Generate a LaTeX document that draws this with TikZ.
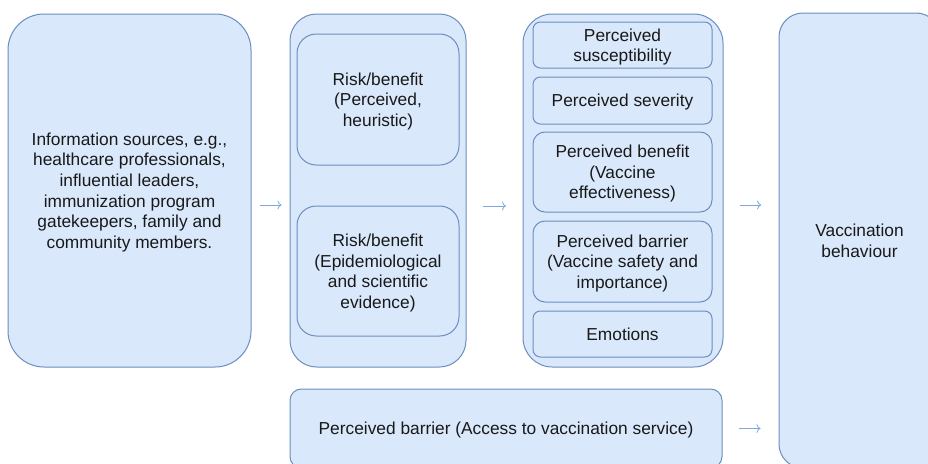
\documentclass[tikz,border=0pt]{standalone}
\usepackage{fontspec}
\setmainfont{Liberation Sans}
\usetikzlibrary{arrows.meta}
\definecolor{boxfill}{HTML}{DAE8FC}
\definecolor{boxline}{HTML}{6C8EBF}
\definecolor{arrowcol}{HTML}{7EA6E0}
\begin{document}
\begin{tikzpicture}[x=0.75pt,y=-0.75pt,
  box/.style={draw=boxline, fill=boxfill, line width=0.75pt, inner sep=0pt,
    text depth=0pt, align=center, text=black!90,
    font=\fontsize{13}{15.4}\selectfont},
  % a box given by its left, top, right and bottom edges (in pixels)
  area/.style args={#1/#2/#3/#4}{anchor=center,
    minimum width={0.75pt*(#3-#1)}, minimum height={0.75pt*(#4-#2)},
    at={({(#1+#3)/2},{(#2+#4)/2})}},
  flow/.style={draw=arrowcol, line width=0.6pt, -{To[length=3pt,width=6.5pt]}},
]
\clip (0,0) rectangle (928,464);
\fill[white] (0,0) rectangle (928,464);

% information sources
\node[box, rounded corners=27pt, area=8/14/251/367] (info)
  {Information sources, e.g.,\\healthcare professionals,\\influential leaders,\\immunization program\\gatekeepers, family and\\community members.};

% risk/benefit group
\node[box, rounded corners=20pt, area=290/14/466/367] (risk) {};
\node[box, rounded corners=14.5pt, area=297/34/459/165] (riskp)
  {Risk/benefit\\(Perceived,\\heuristic)};
\node[box, rounded corners=14.5pt, area=297/206/459/336] (riske)
  {Risk/benefit\\(Epidemiological\\and scientific\\evidence)};

% health belief group
\node[box, rounded corners=22pt, area=523/14/723/367] (belief) {};
\node[box, rounded corners=5.5pt, area=533/22/712/68] (susc)
  {Perceived\\susceptibility};
\node[box, rounded corners=5.5pt, area=533/77/712/124] (sev)
  {Perceived severity};
\node[box, rounded corners=9pt, area=533/132/712/212] (ben)
  {Perceived benefit\\(Vaccine\\effectiveness)};
\node[box, rounded corners=9pt, area=533/221/712/302] (bar)
  {Perceived barrier\\(Vaccine safety and\\importance)};
\node[box, rounded corners=5.5pt, area=533/311/712/357] (emo)
  {Emotions};

% access barrier
\node[box, rounded corners=8.5pt, area=290/389/722/468] (access)
  {Perceived barrier (Access to vaccination service)};

% outcome
\node[box, rounded corners=18pt, area=779/13/940/468] (behav)
  {Vaccination\\behaviour};

% connectors
\draw[flow, shorten <=6pt, shorten >=6pt] (info.east |- 0,205) -- (risk.west |- 0,205);
\draw[flow, shorten <=12.4pt, shorten >=12.4pt] (risk.east |- 0,206) -- (belief.west |- 0,206);
\draw[flow, shorten <=12pt, shorten >=13pt] (belief.east |- 0,205) -- (behav.west |- 0,205);
\draw[flow, shorten <=12pt, shorten >=13.5pt] (access.east) -- (behav.west |- access.east);
\end{tikzpicture}
\end{document}
